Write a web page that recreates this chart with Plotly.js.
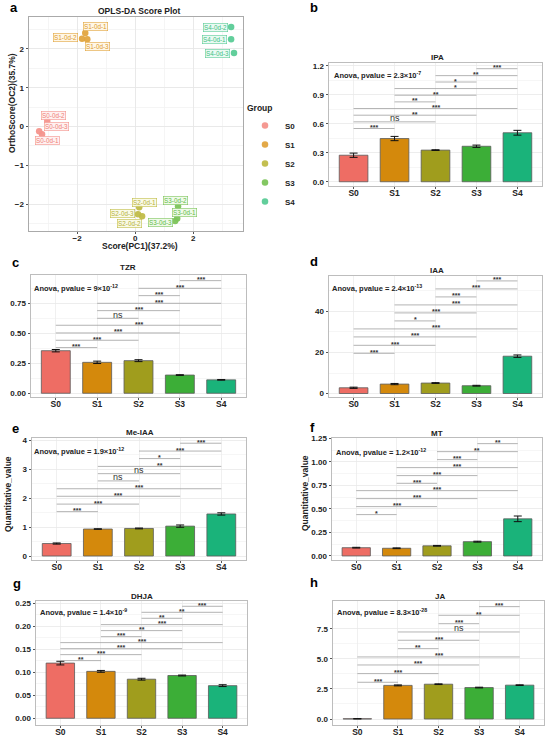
<!DOCTYPE html>
<html><head><meta charset="utf-8">
<script src="https://cdn.plot.ly/plotly-3.0.1.min.js"></script>
<style>body{margin:0;background:#fff}#chart{width:550px;height:736px}</style>
</head><body><div id="chart"></div>
<script>
// ---------------- DATA ----------------
const groups = ['S0','S1','S2','S3','S4'];

// Panel a: OPLS-DA scores
const sampleNames = ['S0-0d-1','S0-0d-2','S0-0d-3','S1-0d-1','S1-0d-2','S1-0d-3','S2-0d-1','S2-0d-2','S2-0d-3','S3-0d-1','S3-0d-2','S3-0d-3','S4-0d-1','S4-0d-2','S4-0d-3'];
const sampleGroup = ['S0','S0','S0','S1','S1','S1','S2','S2','S2','S3','S3','S3','S4','S4','S4'];
const scorePC1 = [-3.21,-3.03,-3.31,-1.72,-1.83,-1.65,0.14,0.24,0.10,1.45,1.48,1.38,3.31,3.31,3.41];
const orthoOC2 = [-0.20,0.14,-0.12,2.41,2.26,2.25,-2.08,-2.31,-2.26,-2.37,-2.05,-2.43,2.25,2.56,1.89];

// comparison pairs (group indices)
const pairFrom = [0,0,0,0,1,1,1,2,2,3];
const pairTo   = [1,2,3,4,2,3,4,3,4,4];

// b IPA
const ipaMean = [0.275,0.448,0.328,0.368,0.508];
const ipaSE   = [0.022,0.022,0.004,0.012,0.025];
const ipaSig  = ['***','ns','**','***','**','**','*','*','**','***'];
const ipaSigY = [0.552,0.621,0.690,0.759,0.828,0.897,0.966,1.034,1.100,1.172];
// c TZR
const tzrMean = [0.355,0.258,0.272,0.152,0.112];
const tzrSE   = [0.010,0.010,0.008,0.003,0.003];
const tzrSig  = ['***','***','***','***','ns','***','***','***','***','***'];
const tzrSigY = [0.381,0.442,0.503,0.567,0.625,0.689,0.750,0.814,0.875,0.939];
// d IAA
const iaaMean = [2.8,4.6,5.1,3.8,18.2];
const iaaSE   = [0.3,0.3,0.2,0.2,0.6];
const iaaSig  = ['***','***','***','***','*','***','***','***','***','***'];
const iaaSigY = [19.6,23.5,27.6,31.5,35.4,39.3,43.2,47.1,51.0,54.9];
// e Me-IAA
const meiaaMean = [0.43,0.93,0.95,1.03,1.45];
const meiaaSE   = [0.02,0.01,0.015,0.04,0.04];
const meiaaSig  = ['***','***','***','***','ns','ns','**','*','***','***'];
const meiaaSigY = [1.53,1.79,2.06,2.32,2.59,2.84,3.09,3.36,3.62,3.89];
// f MT
const mtMean = [0.088,0.082,0.108,0.152,0.395];
const mtSE   = [0.004,0.004,0.004,0.005,0.030];
const mtSig  = ['*','***','***','***','***','***','***','***','**','**'];
const mtSigY = [0.440,0.525,0.610,0.695,0.773,0.855,0.940,1.025,1.110,1.195];
// g DHJA
const dhjaMean = [0.120,0.102,0.085,0.093,0.071];
const dhjaSE   = [0.004,0.002,0.002,0.001,0.002];
const dhjaSig  = ['**','***','***','***','***','**','***','**','**','***'];
const dhjaSigY = [0.1254,0.1384,0.1514,0.1645,0.1775,0.1906,0.2036,0.2174,0.2304,0.2435];
// h JA
const jaMean = [0.02,2.80,2.90,2.62,2.82];
const jaSE   = [0.01,0.04,0.03,0.03,0.03];
const jaSig  = ['***','***','***','***','**','***','ns','***','**','***'];
const jaSigY = [3.06,3.78,4.50,5.17,5.86,6.56,7.25,7.94,8.64,9.36];

// ---------------- STYLE / LAYOUT ----------------
const W = 550, H = 736;
const FONT = 'Liberation Sans, Arial, Helvetica, sans-serif';
const pointColor = {S0:'#F4938C',S1:'#E2A43E',S2:'#C0BC48',S3:'#7CC45A',S4:'#5ACB96'};
const labelColor = {S0:'#EE8078',S1:'#DC9A2C',S2:'#B5B13A',S3:'#62BA45',S4:'#3FBF84'};
const labelBg = {S0:'rgba(255,240,238,0.9)',S1:'rgba(255,246,228,0.9)',S2:'rgba(250,250,228,0.9)',S3:'rgba(238,250,232,0.9)',S4:'rgba(232,250,242,0.9)'};
const barColors = ['#EE6D64','#D4890C','#A09D1D','#3CAE37','#1AB37A'];

const domX = (l,r)=>[l/W, r/W];
const domY = (t,b)=>[1-b/H, 1-t/H];
const traces = [];
const annotations = [];
const layout = {
  width:W, height:H, margin:{l:0,r:0,t:0,b:0},
  paper_bgcolor:'#fff', plot_bgcolor:'#fff',
  font:{family:FONT, size:8, color:'#222'},
  showlegend:true,
  legend:{
    title:{text:'Group', font:{size:8.5, weight:'bold', color:'#222'}},
    font:{size:8, weight:'bold', color:'#222'},
    x:245/W, y:1-100/H, xanchor:'left', yanchor:'top',
    bgcolor:'rgba(0,0,0,0)', tracegroupgap:0, itemwidth:30
  },
  annotations: annotations
};
function text(t, px, py, o){
  annotations.push(Object.assign({text:t, xref:'paper', yref:'paper', x:px/W, y:1-py/H,
    showarrow:false, xanchor:'center', yanchor:'middle'}, o||{}));
}

// ---------- Panel a ----------
const aBox = [29,243,17,231];
layout.xaxis = {domain:domX(aBox[0],aBox[1]), range:[-3.66,3.72], anchor:'y',
  tickvals:[-2,0,2], ticks:'outside', ticklen:2, tickcolor:'#555', ticklabelstandoff:-3,
  tickfont:{size:8, weight:'bold', color:'#222'},
  showgrid:true, gridcolor:'#e6e6e6', gridwidth:0.8, zeroline:false,
  minor:{dtick:1, showgrid:true, gridcolor:'#f2f2f2', ticks:''},
  showline:true, mirror:true, linecolor:'#aaa', linewidth:1};
layout.yaxis = {domain:domY(aBox[2],aBox[3]), range:[-2.69,2.82], anchor:'x',
  tickvals:[-2,-1,0,1,2], ticks:'outside', ticklen:2.5, tickcolor:'#555',
  tickfont:{size:8, weight:'bold', color:'#222'},
  showgrid:true, gridcolor:'#e6e6e6', gridwidth:0.8, zeroline:false,
  minor:{dtick:0.5, showgrid:true, gridcolor:'#f2f2f2', ticks:''},
  showline:true, mirror:true, linecolor:'#aaa', linewidth:1};

groups.forEach(g=>{
  const idx = sampleGroup.map((s,i)=>s===g?i:-1).filter(i=>i>=0);
  traces.push({type:'scatter', mode:'markers', name:g, xaxis:'x', yaxis:'y',
    x: idx.map(i=>scorePC1[i]), y: idx.map(i=>orthoOC2[i]),
    marker:{size:6.5, color:pointColor[g], opacity:0.95}, hoverinfo:'skip'});
});
// label offsets (screen px) for the repelled sample labels
const labelShift = {
 'S0-0d-1':[5,-6],'S0-0d-2':[6,6],'S0-0d-3':[17,5],
 'S1-0d-1':[10,6],'S1-0d-2':[-17,1],'S1-0d-3':[10,-7],
 'S2-0d-1':[5,5],'S2-0d-2':[-13,-7],'S2-0d-3':[-16,1],
 'S3-0d-1':[7,6],'S3-0d-2':[-3,6],'S3-0d-3':[-15,-2],
 'S4-0d-1':[-17,0],'S4-0d-2':[-16,0],'S4-0d-3':[-17,0]
};
sampleNames.forEach((n,i)=>{
  const g = sampleGroup[i];
  annotations.push({text:n, xref:'x', yref:'y', x:scorePC1[i], y:orthoOC2[i],
    xshift:labelShift[n][0], yshift:labelShift[n][1], showarrow:false,
    font:{size:6.3, color:labelColor[g], family:FONT},
    bgcolor:labelBg[g], bordercolor:pointColor[g], borderwidth:0.6, borderpad:0.5});
});
text('a', 14, 7, {font:{size:13, weight:'bold', color:'#000'}});
text('OPLS-DA Score Plot', 140, 11, {font:{size:8.5, weight:'bold', color:'#222'}});
text('Score(PC1)(37.2%)', 140, 246, {font:{size:8.5, weight:'bold', color:'#222'}});
text('OrthoScore(OC2)(35.7%)', 12, 103, {textangle:-90, font:{size:8.5, weight:'bold', color:'#222'}});

// ---------- Bar panels ----------
const barPanels = [
 {title:'IPA', mean:ipaMean, se:ipaSE, sig:ipaSig, sigY:ipaSigY, p:'2.3×10<sup>-7</sup>',
  box:[329,542,63,186], yr:[-0.044,1.231], dtick:0.3, fmt:'.1f', letter:'b', lp:[314,7], tp:[437,58], ap:[332,75]},
 {title:'TZR', mean:tzrMean, se:tzrSE, sig:tzrSig, sigY:tzrSigY, p:'9×10<sup>-12</sup>',
  box:[31,246,275,397], yr:[-0.031,0.986], dtick:0.25, fmt:'.2f', letter:'c', lp:[15,262], tp:[128,268], ap:[32,288]},
 {title:'IAA', mean:iaaMean, se:iaaSE, sig:iaaSig, sigY:iaaSigY, p:'2.4×10<sup>-13</sup>',
  box:[329,542,276,397], yr:[-1.7,57.3], dtick:20, fmt:'d', letter:'d', lp:[314,261], tp:[437,271], ap:[330,288]},
 {title:'Me-IAA', mean:meiaaMean, se:meiaaSE, sig:meiaaSig, sigY:meiaaSigY, p:'1.9×10<sup>-12</sup>',
  box:[32,246,438,560], yr:[-0.138,4.07], dtick:1, fmt:'d', letter:'e', lp:[15,428], tp:[140,432], ap:[32,451], yt:[8,494]},
 {title:'MT', mean:mtMean, se:mtSE, sig:mtSig, sigY:mtSigY, p:'1.2×10<sup>-12</sup>',
  box:[332,542,438,560], yr:[-0.043,1.255], dtick:0.25, fmt:'.2f', letter:'f', lp:[312,427], tp:[437,433], ap:[334,452], yt:[305,493]},
 {title:'DHJA', mean:dhjaMean, se:dhjaSE, sig:dhjaSig, sigY:dhjaSigY, p:'1.4×10<sup>-9</sup>',
  box:[36,247,601,725], yr:[-0.0146,0.255], dtick:0.05, fmt:'.2f', letter:'g', lp:[17,583], tp:[142,596], ap:[38,612]},
 {title:'JA', mean:jaMean, se:jaSE, sig:jaSig, sigY:jaSigY, p:'8.3×10<sup>-28</sup>',
  box:[333,544,601,725], yr:[-0.5,9.83], dtick:2.5, fmt:'.1f', letter:'h', lp:[314,582], tp:[440,596], ap:[335,612]}
];

barPanels.forEach((pn,k)=>{
  const n = k+2, xa='x'+n, ya='y'+n;
  layout['xaxis'+n] = {domain:domX(pn.box[0],pn.box[1]), anchor:ya, type:'category',
    categoryorder:'array', categoryarray:groups, range:[-0.6,4.6],
    ticks:'outside', ticklen:2, tickcolor:'#555', ticklabelstandoff:-3,
    tickfont:{size:8.5, weight:'bold', color:'#222'},
    showgrid:true, gridcolor:'#ececec', gridwidth:0.8, zeroline:false,
    showline:true, mirror:true, linecolor:'#bdbdbd', linewidth:1};
  layout['yaxis'+n] = {domain:domY(pn.box[2],pn.box[3]), anchor:xa, range:pn.yr,
    tick0:0, dtick:pn.dtick, tickformat:pn.fmt,
    ticks:'outside', ticklen:2.5, tickcolor:'#555',
    tickfont:{size:8, weight:'bold', color:'#222'},
    showgrid:true, gridcolor:'#e8e8e8', gridwidth:0.8, zeroline:false,
    minor:{dtick:pn.dtick/2, tick0:0, showgrid:true, gridcolor:'#f4f4f4', ticks:''},
    showline:true, mirror:true, linecolor:'#bdbdbd', linewidth:1};
  traces.push({type:'bar', x:groups, y:pn.mean, xaxis:xa, yaxis:ya, width:0.7, showlegend:false,
    marker:{color:barColors, line:{color:'#5a5a5a', width:0.8}},
    error_y:{type:'data', array:pn.se, visible:true, color:'#111', thickness:1, width:4},
    hoverinfo:'skip'});
  // significance brackets
  const bx=[], by=[];
  pairFrom.forEach((a,i)=>{ bx.push(groups[a], groups[pairTo[i]], null); by.push(pn.sigY[i], pn.sigY[i], null); });
  traces.push({type:'scatter', mode:'lines', x:bx, y:by, xaxis:xa, yaxis:ya, showlegend:false,
    line:{color:'#a0a0a0', width:0.8}, hoverinfo:'skip', connectgaps:false});
  pairFrom.forEach((a,i)=>{
    const lab = pn.sig[i], ns = lab==='ns';
    annotations.push({text:lab, xref:xa, yref:ya, x:(a+pairTo[i])/2, y:pn.sigY[i],
      showarrow:false, xanchor:'center', yanchor:'bottom', yshift: ns? -3.5 : -4.5,
      font:{size: ns?9:7, color:'#333', weight: ns?'normal':'bold'}});
  });
  text(pn.letter, pn.lp[0], pn.lp[1], {font:{size:13, weight:'bold', color:'#000'}});
  text(pn.title, pn.tp[0], pn.tp[1], {font:{size:8, weight:'bold', color:'#222'}});
  text('Anova, pvalue = '+pn.p, pn.ap[0], pn.ap[1], {xanchor:'left', font:{size:7.5, weight:'bold', color:'#222'}});
  if(pn.yt) text('Quantitative_value', pn.yt[0], pn.yt[1], {textangle:-90, font:{size:8.5, weight:'bold', color:'#222'}});
});

Plotly.newPlot('chart', traces, layout, {staticPlot:true, displayModeBar:false});
</script></body></html>
